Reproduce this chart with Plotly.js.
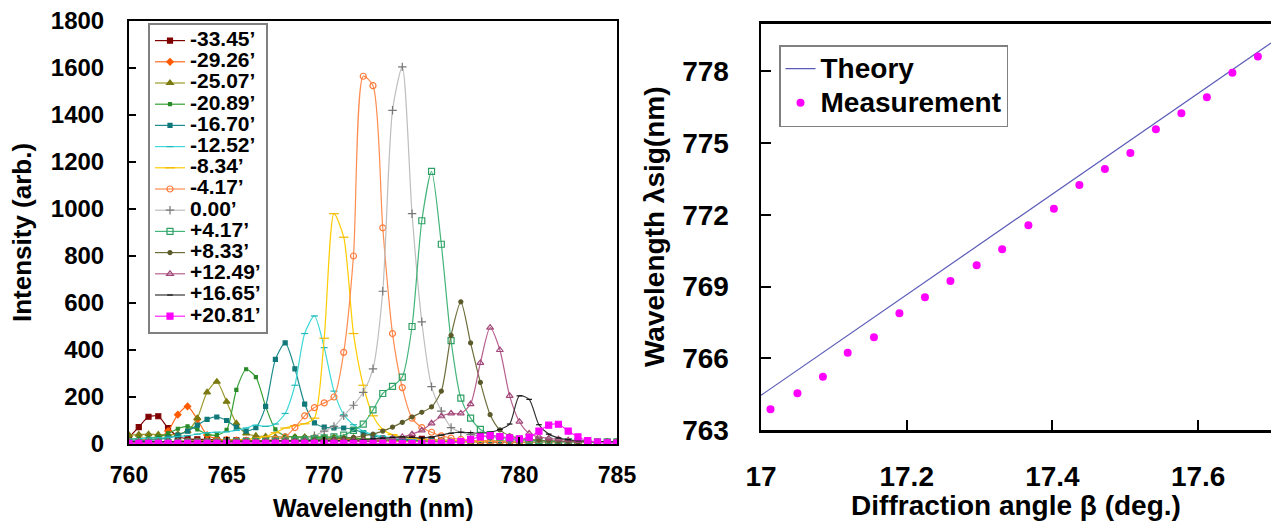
<!DOCTYPE html>
<html><head><meta charset="utf-8">
<script src="https://cdn.plot.ly/plotly-3.0.1.min.js"></script>
<style>html,body{margin:0;padding:0;background:#fff}#chart{width:1271px;height:521px}</style>
</head><body><div id="chart"></div>
<script>
// ---------- Left panel data: spectra vs wavelength ----------
const wavelength = [760,760.5,761,761.5,762,762.5,763,763.5,764,764.5,765,765.5,766,766.5,767,767.5,768,768.5,769,769.5,770,770.5,771,771.5,772,772.5,773,773.5,774,774.5,775,775.5,776,776.5,777,777.5,778,778.5,779,779.5,780,780.5,781,781.5,782,782.5,783,783.5,784,784.5,785];
const seriesNames = ["-33.45\u2019","-29.26\u2019","-25.07\u2019","-20.89\u2019","-16.70\u2019","-12.52\u2019","-8.34\u2019","-4.17\u2019","0.00\u2019","+4.17\u2019","+8.33\u2019","+12.49\u2019","+16.65\u2019","+20.81\u2019"];
const int_m3345 = [28,72,116,118,68,32,22,20,20,18, 18,16,15,15,14,14,13,13,12,12, 12,12,12,12,12,12,14,16,20,24, 22,18,14,12,10,10,10,9,9,9, 9,8,8,8,8,8,8,8,8,8, 8];
const int_m2926 = [18,20,20,25,55,125,160,105,38,22, 18,16,15,15,15,15,15,16,18,20, 22,22,20,18,16,15,14,13,12,12, 12,11,11,10,10,10,10,9,9,9, 9,9,8,8,8,8,8,8,8,8, 8];
const int_m2507 = [38,40,42,40,40,42,55,110,220,265, 180,88,45,35,32,30,30,30,30,30, 30,30,28,26,24,20,18,16,15,14, 14,13,13,12,12,12,11,11,11,10, 10,10,10,10,9,9,9,9,9,9, 9];
const int_m2089 = [20,24,26,30,45,65,75,62,42,38, 60,230,318,285,160,62,35,30,28,28, 28,27,26,24,22,20,18,17,16,15, 14,14,13,13,12,12,12,11,11,11, 10,10,10,10,10,9,9,9,9,9, 9];
const int_m1670 = [12,14,16,20,26,38,55,80,105,115, 100,72,55,70,160,360,430,320,170,90, 72,68,68,62,48,35,26,22,20,18, 16,15,14,14,13,13,12,12,12,11, 11,11,10,10,10,10,9,9,9,9, 9];
const int_m1252 = [20,22,24,26,28,32,36,42,48,50, 52,58,68,80,75,85,130,250,470,545, 410,225,125,82,55,40,32,28,25,22, 20,18,17,16,15,14,14,13,13,12, 12,12,11,11,11,10,10,10,10,10, 10];
const int_m0834 = [6,7,8,9,10,11,12,13,14,15, 16,18,20,24,32,48,68,78,86,110, 450,980,880,470,250,120,62,40,30,25, 20,18,16,15,14,13,12,12,11,11, 10,10,10,9,9,9,9,8,8,8, 8];
const int_m0417 = [8,8,8,8,8,8,9,9,9,9, 10,10,10,12,15,20,30,70,120,155, 175,200,390,800,1565,1525,920,470,240,110, 70,50,35,25,20,16,14,12,11,10, 10,9,9,9,8,8,8,8,8,8, 8];
const int_p0000 = [8,8,8,8,8,8,9,9,9,9, 9,9,10,10,10,12,14,16,22,35, 55,75,120,165,220,320,650,1420,1605,980, 520,244,140,70,50,40,35,30,25,20, 15,12,10,10,9,9,9,8,8,8, 8];
const int_p0417 = [6,6,6,7,7,7,8,8,8,8, 9,9,10,10,11,11,12,14,18,22, 26,30,38,58,85,145,215,245,285,500, 950,1160,850,440,195,110,62,40,30,24, 20,16,14,12,11,10,10,9,9,9, 9];
const int_p0833 = [8,8,8,8,9,9,9,9,10,10, 10,10,11,11,12,12,12,14,15,17, 20,22,25,28,35,42,55,72,92,115, 135,158,225,462,605,430,262,125,60,35, 25,20,16,14,12,11,10,10,9,9, 9];
const int_p1249 = [6,6,6,6,7,7,7,7,8,8, 8,8,9,9,9,10,10,10,11,11, 12,12,12,13,14,16,20,25,30,42, 58,88,118,130,130,170,345,495,400,205, 95,45,30,24,20,16,13,11,10,9, 9];
const int_p1665 = [10,10,10,10,10,11,11,11,11,12, 12,12,12,12,13,13,13,13,14,14, 14,14,15,16,18,22,25,28,30,28, 26,30,38,46,50,48,45,50,62,85, 205,190,82,42,26,18,14,12,10,10, 9];
const int_p2081 = [3,3,3,3,3,3,3,3,3,3, 3,3,3,3,3,3,3,3,3,3, 3,3,3,3,3,3,3,3,3,3, 3,4,4,5,10,20,30,36,32,26, 22,28,55,80,84,55,30,15,8,5, 4];
const xTicksLeft = [760,765,770,775,780,785];
const yTicksLeft = [0,200,400,600,800,1000,1200,1400,1600,1800];

// ---------- Right panel data ----------
const angleDeg = [17.013,17.050,17.085,17.119,17.155,17.190,17.225,17.260,17.296,17.331,17.367,17.402,17.437,17.472,17.507,17.542,17.577,17.612,17.647,17.682];
const measuredWl = [763.87,764.54,765.23,766.23,766.88,767.88,768.55,769.23,769.89,770.56,771.56,772.25,773.25,773.91,774.58,775.58,776.25,776.92,777.94,778.62];
const theoryAngle = [17.0,17.4,17.7];
const theoryWl = [764.45,772.88,779.18];
const xTicksRight = [17,17.2,17.4,17.6];
const yTicksRight = [763,766,769,772,775,778];

// ---------- styles ----------
const allSeries = [int_m3345,int_m2926,int_m2507,int_m2089,int_m1670,int_m1252,int_m0834,int_m0417,int_p0000,int_p0417,int_p0833,int_p1249,int_p1665,int_p2081];
const styles = [
  {c:'#800000', m:'#800000', sym:'square', size:5},
  {c:'#FF6A1A', m:'#FF5A00', sym:'diamond', size:5},
  {c:'#9A9A2A', m:'#7A7A10', sym:'triangle-up', size:6},
  {c:'#33A033', m:'#2A8A2A', sym:'square', size:3},
  {c:'#1E8C8C', m:'#107878', sym:'square', size:4},
  {c:'#40D8D8', m:'#20B8B8', sym:'line-ew', size:5},
  {c:'#FFCC00', m:'#F0B800', sym:'line-ew', size:7},
  {c:'#FF8C50', m:'#FF7A3A', sym:'circle-open', size:6},
  {c:'#BEBEBE', m:'#777777', sym:'cross-thin', size:6},
  {c:'#44B57A', m:'#2EA064', sym:'square-open', size:6},
  {c:'#6E6E3C', m:'#5A5A2A', sym:'circle', size:4},
  {c:'#B8608E', m:'#A04878', sym:'triangle-up-open', size:6},
  {c:'#333333', m:'#111111', sym:'line-ew', size:4},
  {c:'#FF22FF', m:'#FF00FF', sym:'square', size:6}
];

const FONT = 'Arial, "Liberation Sans", sans-serif';
const traces = [];
allSeries.forEach((ys, k) => {
  const s = styles[k];
  traces.push({
    type:'scatter', mode:'lines+markers', x:wavelength, y:ys,
    name:'<span style="font-size:21px">' + seriesNames[k] + '</span>',
    xaxis:'x', yaxis:'y', legend:'legend',
    line:{color:s.c, width:1.2, shape:'spline', smoothing:0.7},
    marker:{symbol:s.sym, size:s.size, color:s.m, line:{color:s.m, width:1.2}},
    cliponaxis:true
  });
});
traces.push({
  type:'scatter', mode:'lines', x:theoryAngle, y:theoryWl,
  name:'<span style="font-size:28px">Theory</span>',
  xaxis:'x2', yaxis:'y2', legend:'legend2',
  line:{color:'#5A5AB8', width:1.2}
});
traces.push({
  type:'scatter', mode:'markers', x:angleDeg, y:measuredWl,
  name:'<span style="font-size:28px">Measurement</span>',
  xaxis:'x2', yaxis:'y2', legend:'legend2',
  marker:{symbol:'circle', size:8, color:'#FF00FF'}
});

const axBase = {showgrid:false, zeroline:false, showline:true, linecolor:'#000', ticks:'inside', tickcolor:'#000', automargin:false};
const layout = {
  width:1271, height:521, margin:{l:0,r:0,t:0,b:0},
  paper_bgcolor:'#fff', plot_bgcolor:'rgba(0,0,0,0)',
  font:{family:FONT, color:'#000', weight:'bold'},
  showlegend:true,
  xaxis:Object.assign({}, axBase, {
    domain:[129/1271, 617/1271], anchor:'y', range:[760,785], tickvals:xTicksLeft,
    linewidth:2, mirror:true, ticklen:7, tickwidth:2,
    tickfont:{family:FONT, size:23, weight:'bold'}, ticklabelstandoff:9
  }),
  yaxis:Object.assign({}, axBase, {
    domain:[77/521, 500/521], anchor:'x', range:[0,1800], tickvals:yTicksLeft,
    linewidth:2, mirror:true, ticklen:7, tickwidth:2,
    tickfont:{family:FONT, size:24, weight:'bold'}, ticklabelstandoff:18,
    title:{text:'Intensity (arb.)', font:{family:FONT, size:26, weight:'bold'}, standoff:12}
  }),
  xaxis2:Object.assign({}, axBase, {
    domain:[761/1271, 1], anchor:'y2', range:[17,17.7], tickvals:xTicksRight,
    linewidth:2.5, mirror:true, ticklen:10, tickwidth:2,
    tickfont:{family:FONT, size:28, weight:'bold'}, ticklabelstandoff:20,
    title:{text:'Diffraction angle \u03b2 (deg.)', font:{family:FONT, size:28, weight:'bold'}, standoff:4}
  }),
  yaxis2:Object.assign({}, axBase, {
    domain:[91/521, 497.5/521], anchor:'x2', range:[763,780], tickvals:yTicksRight,
    linewidth:2.5, mirror:false, ticklen:10, tickwidth:2,
    tickfont:{family:FONT, size:28, weight:'bold'}, ticklabelstandoff:24,
    title:{text:'Wavelength \u03bbsig(nm)', font:{family:FONT, size:28, weight:'bold'}, standoff:10}
  }),
  annotations:[{
    text:'Wavelength (nm)', xref:'paper', yref:'paper', x:373/1271, y:0,
    xanchor:'center', yanchor:'bottom', showarrow:false, yshift:-2, borderpad:0,
    font:{family:FONT, size:25, weight:'bold', color:'#000'}
  }],
  legend:{x:148/1271, y:498/521, xanchor:'left', yanchor:'top', bgcolor:'#fff',
    bordercolor:'#808080', borderwidth:2, font:{family:FONT, size:14, weight:'bold'},
    itemwidth:30, tracegroupgap:0, traceorder:'normal'},
  legend2:{x:779/1271, y:476/521, xanchor:'left', yanchor:'top', bgcolor:'#fff',
    bordercolor:'#808080', borderwidth:1.5, font:{family:FONT, size:24, weight:'bold'},
    itemwidth:30, traceorder:'normal'}
};
Plotly.newPlot('chart', traces, layout, {staticPlot:true, displayModeBar:false});
</script></body></html>
